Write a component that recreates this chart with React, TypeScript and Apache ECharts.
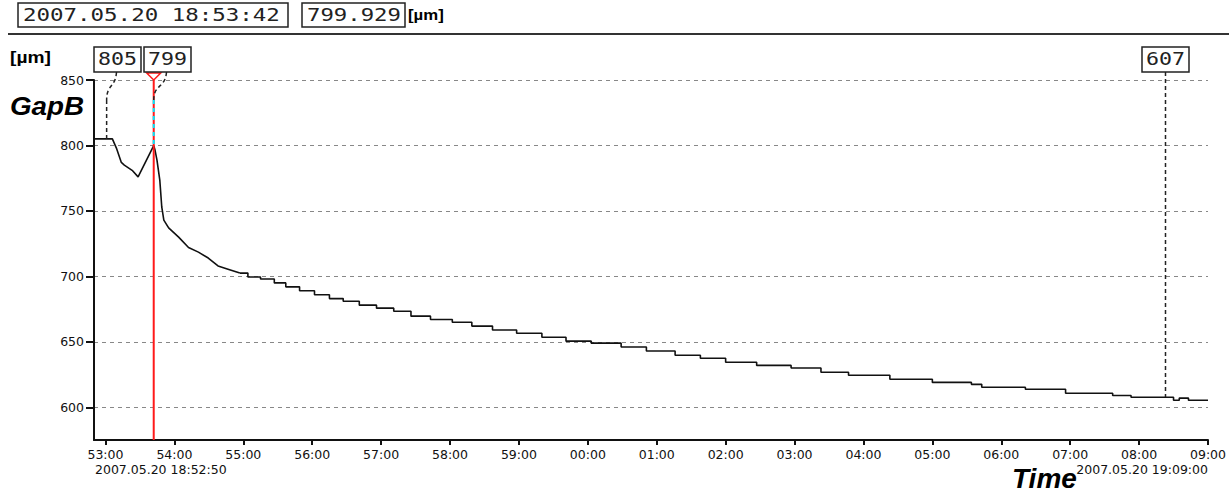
import React, { useEffect, useRef } from 'react';
import * as echarts from 'echarts';

// time axis values are seconds since 18:52:00
const curveTimes = [50, 66, 69.5, 73.8, 76.4, 83.2, 88.4, 102, 103, 104.8, 107.3, 109, 110.8, 115, 123.7, 132.3, 140.9, 149.5, 158, 166.7, 177];
const curveValues = [805, 805, 798, 787, 785, 781, 776, 799.9, 797, 789, 773.5, 753, 743, 737, 730, 722, 718.5, 714, 708, 705.5, 702.5];
const stepTimes = [177, 184, 195, 207, 217, 229, 242, 255, 267, 281, 296, 311, 326, 343, 362, 379, 397, 418, 440, 461, 483, 509, 531, 556, 578, 600, 627, 657, 683, 707, 743, 780, 814, 823, 861, 896, 937, 953, 990, 995, 1003, 1020];
const stepValues = [702.5, 699.5, 698, 695, 692, 689, 686, 683, 681, 678, 675.7, 673.4, 669.6, 667, 665, 662, 659, 656.6, 653.5, 650.5, 649, 646, 643, 639.7, 637.5, 634.4, 632, 630, 626.8, 624.5, 621.4, 619, 617.5, 615.3, 613.8, 610.7, 609, 607.6, 605.4, 607, 605.4, 605.4];

const xTicks = [60, 120, 180, 240, 300, 360, 420, 480, 540, 600, 660, 720, 780, 840, 900, 960, 1020];
const yTicks = [600, 650, 700, 750, 800, 850];
const xMin = 50;
const xMax = 1020;
const yMin = 575;
const yMax = 850;

const markerLabels = ['805', '799', '607'];
const markerTimes = [61, 102, 983];
const markerValues = [805, 799.9, 607.6];
const cursorTime = 102;

const headerStamp = '2007.05.20 18:53:42';
const headerValue = '799.929';
const unitText = '[µm]';
const yName = 'GapB';
const xName = 'Time';
const startStamp = '2007.05.20 18:52:50';
const endStamp = '2007.05.20 19:09:00';

const MONO = '"DejaVu Sans Mono"';
const SANS = '"DejaVu Sans"';
const BOLD = '"Liberation Sans"';
const INK = '#111';

function fmtMinute(v: number) {
  const m = Math.round((52 * 60 + v) / 60) % 60;
  return (m < 10 ? '0' : '') + m + ':00';
}

function monoText(text: string, x: number, yMid: number, width: number, size: number, align: string) {
  const natural = text.length * 0.602 * size;
  return {
    type: 'text',
    x,
    y: yMid,
    scaleX: width / natural,
    z: 20,
    style: {
      text,
      fontFamily: MONO,
      fontSize: size,
      fill: '#222',
      textAlign: align,
      align,
      textVerticalAlign: 'middle',
      verticalAlign: 'middle',
    },
  };
}

export default function App() {
  const ref = useRef<HTMLDivElement>(null);
  useEffect(() => {
    if (!ref.current) return;
    const chart = echarts.init(ref.current, undefined, { renderer: 'svg' });
    chart.setOption({
      animation: false,
      backgroundColor: '#fff',
      grid: { left: 94, right: 8, top: 80, bottom: 57 },
      xAxis: {
        type: 'value',
        min: xMin,
        max: xMax,
        axisLine: { show: true, lineStyle: { color: INK, width: 2 } },
        axisTick: { show: true, customValues: xTicks, length: 5, lineStyle: { color: INK, width: 2 } },
        axisLabel: {
          customValues: xTicks,
          formatter: (v: number) => fmtMinute(v),
          fontFamily: SANS,
          fontSize: 12.5,
          color: INK,
          margin: 8,
        },
        splitLine: { show: false },
      },
      yAxis: {
        type: 'value',
        min: yMin,
        max: yMax,
        axisLine: { show: true, lineStyle: { color: INK, width: 2 } },
        axisTick: { show: true, customValues: yTicks, length: 8, lineStyle: { color: INK, width: 2 } },
        axisLabel: { customValues: yTicks, fontFamily: SANS, fontSize: 12.5, color: INK, margin: 10 },
        splitLine: { show: true, lineStyle: { color: '#888', width: 1, type: [4, 4] } },
      },
      series: [
        {
          type: 'line',
          data: curveTimes.map((t, i) => [t, curveValues[i]]),
          symbol: 'none',
          lineStyle: { color: INK, width: 1.6 },
          z: 5,
        },
        {
          type: 'line',
          step: 'end',
          data: stepTimes.map((t, i) => [t, stepValues[i]]),
          symbol: 'none',
          lineStyle: { color: INK, width: 1.6 },
          z: 5,
        },
      ],
    });

    const px = (t: number, v: number) => chart.convertToPixel({ gridIndex: 0 }, [t, v]) as number[];
    const [plotLeft, plotTop] = px(xMin, yMax);
    const [plotRight, plotBottom] = px(xMax, yMin);
    const boxTop = 47;
    const boxH = 25;
    const boxBottom = boxTop + boxH;
    const boxW = 47;
    const bend = 100;
    const g: any[] = [];

    // header
    g.push({ type: 'rect', shape: { x: 18, y: 3, width: 270, height: 24 }, style: { fill: '#fff', stroke: '#222', lineWidth: 1.5 }, z: 20 });
    g.push(monoText(headerStamp, 23, 15, 257, 18, 'left'));
    g.push({ type: 'rect', shape: { x: 302, y: 3, width: 103, height: 24 }, style: { fill: '#fff', stroke: '#222', lineWidth: 1.5 }, z: 20 });
    g.push(monoText(headerValue, 307, 15, 94, 18, 'left'));
    g.push({ type: 'text', x: 408, y: 15, scaleX: 1.2, z: 20, style: { text: unitText, fontFamily: BOLD, fontWeight: 'bold', fontSize: 14, fill: '#000', textVerticalAlign: 'middle', verticalAlign: 'middle' } });
    g.push({ type: 'line', shape: { x1: 8, y1: 34, x2: 1229, y2: 34 }, style: { stroke: '#333', lineWidth: 2 }, z: 20 });

    // axis titles
    g.push({ type: 'text', x: 10, y: 58, scaleX: 1.2, z: 20, style: { text: unitText, fontFamily: BOLD, fontWeight: 'bold', fontSize: 16, fill: '#000', textVerticalAlign: 'middle', verticalAlign: 'middle' } });
    g.push({ type: 'text', x: 10, y: 106, scaleX: 1.07, z: 20, style: { text: yName, fontFamily: BOLD, fontWeight: 'bold', fontStyle: 'italic', fontSize: 26, fill: '#000', textVerticalAlign: 'middle', verticalAlign: 'middle' } });
    g.push({ type: 'text', x: 1012, y: 478, z: 20, style: { text: xName, fontFamily: BOLD, fontWeight: 'bold', fontStyle: 'italic', fontSize: 28, fill: '#000', textVerticalAlign: 'middle', verticalAlign: 'middle' } });
    g.push({ type: 'text', x: plotLeft + 1, y: 469, z: 20, style: { text: startStamp, fontFamily: SANS, fontSize: 12.5, fill: INK, textVerticalAlign: 'middle', verticalAlign: 'middle' } });
    g.push({ type: 'text', x: plotRight, y: 469, z: 20, style: { text: endStamp, fontFamily: SANS, fontSize: 12.5, fill: INK, textAlign: 'right', align: 'right', textVerticalAlign: 'middle', verticalAlign: 'middle' } });

    // cursor
    const cx = px(cursorTime, yMax)[0];
    g.push({ type: 'line', shape: { x1: cx, y1: plotTop, x2: cx, y2: plotBottom }, style: { stroke: '#ff1a1a', lineWidth: 2 }, z: 10 });
    g.push({ type: 'polygon', shape: { points: [[cx - 7, boxBottom + 1], [cx + 7, boxBottom + 1], [cx, plotTop]] }, style: { fill: '#fff', stroke: '#ff1a1a', lineWidth: 1.5 }, z: 11 });

    // markers
    let prevRight = -Infinity;
    markerLabels.forEach((label, i) => {
      const [mx, my] = px(markerTimes[i], markerValues[i]);
      const left = Math.max(mx - boxW / 2, prevRight + 3, plotLeft);
      prevRight = left + boxW;
      const bcx = left + boxW / 2;
      const isCursor = Math.abs(markerTimes[i] - cursorTime) < 0.5;
      const dash = { stroke: '#222', lineWidth: 1.5, lineDash: [4, 3] };
      let startY = boxBottom;
      if (Math.abs(bcx - mx) > 1) {
        g.push({ type: 'bezierCurve', shape: { x1: bcx - 1, y1: boxBottom, cpx1: bcx - 2, cpy1: 88, cpx2: mx, cpy2: 84, x2: mx, y2: bend }, style: { ...dash, fill: 'none' }, z: 12 });
        startY = bend;
      }
      if (isCursor) {
        g.push({ type: 'line', shape: { x1: mx, y1: startY, x2: mx, y2: my }, style: { stroke: '#00e8ff', lineWidth: 2, lineDash: [4, 4] }, z: 12 });
      } else {
        g.push({ type: 'line', shape: { x1: mx, y1: startY, x2: mx, y2: my }, style: dash, z: 12 });
      }
      g.push({ type: 'rect', shape: { x: left, y: boxTop, width: boxW, height: boxH }, style: { fill: '#fff', stroke: '#222', lineWidth: 1.5 }, z: 20 });
      g.push(monoText(label, bcx, boxTop + boxH / 2, 39, 18, 'center'));
    });

    chart.setOption({ graphic: g });
    return () => chart.dispose();
  }, []);
  return <div ref={ref} style={{ position: 'absolute', left: 0, top: 0, width: 1229, height: 497, background: '#fff' }} />;
}
